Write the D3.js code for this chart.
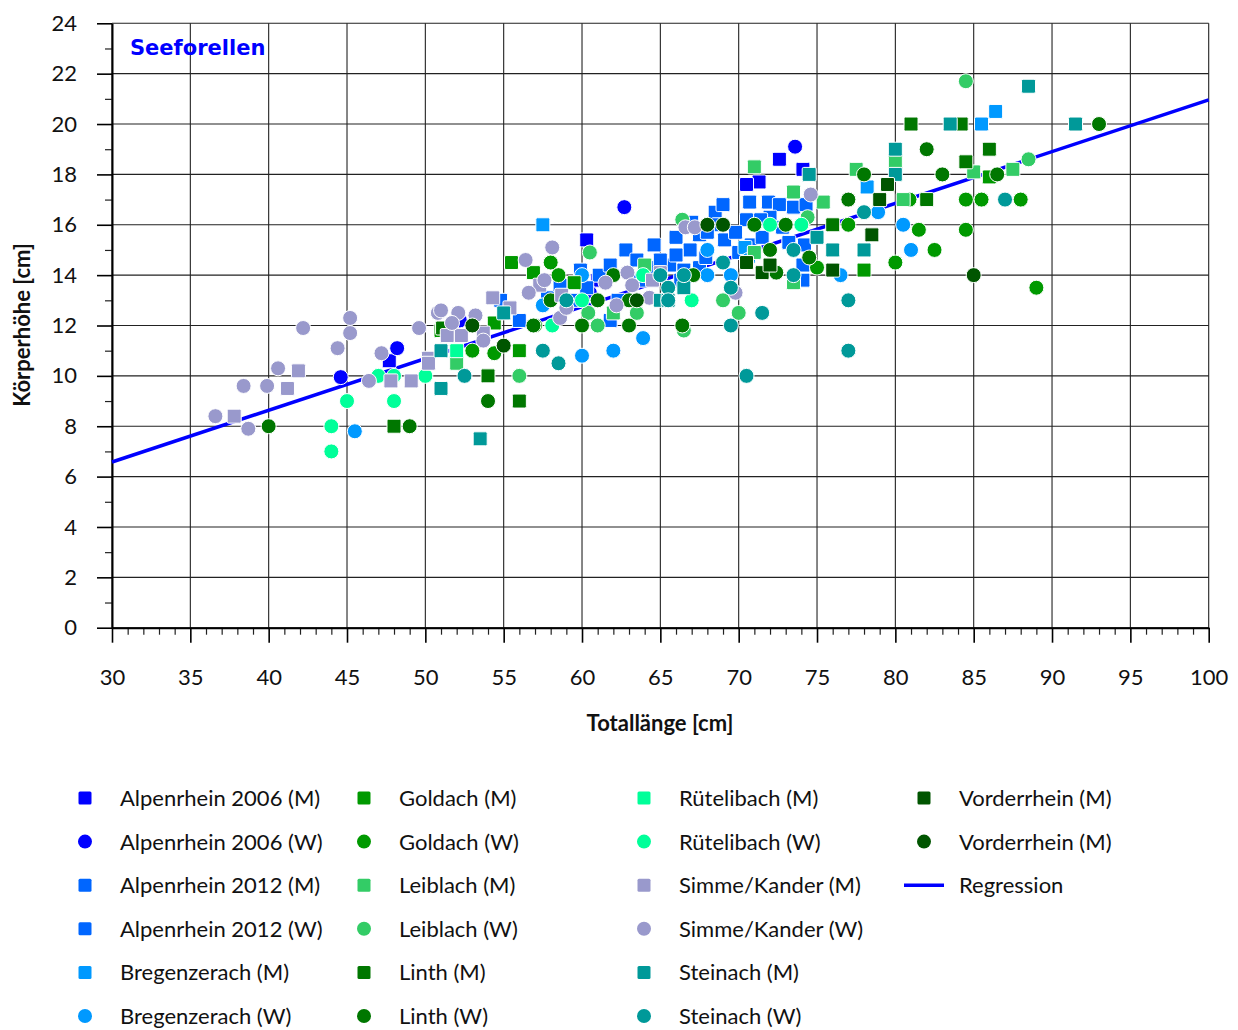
<!DOCTYPE html>
<html>
<head>
<meta charset="utf-8">
<script src="https://cdn.jsdelivr.net/npm/d3@7"></script>
<style>
  body { margin: 0; background: #fff; }
  svg text { font-family: Lato, "Open Sans", sans-serif; fill: #111; }
</style>
</head>
<body>
<div id="wrapper"></div>
<script>

// values are [Totallänge, Körperhöhe]
const alpen06M = [[47.7,10.6],[60.3,15.4],[72.6,18.6],[71.3,17.7],[70.5,17.6],[74.1,18.2],[61.0,13.8]]
const alpen06W = [[44.6,9.95],[48.2,11.1],[62.7,16.7],[73.6,19.1],[60.5,13.3],[52.2,12.2]]
const alpen12M = [[57.8,13.1],[59.5,13.0],[59.9,14.2],[61.1,14.0],[61.8,14.4],[62.8,15.0],[64.6,15.2],[66.0,15.5],[66.9,15.0],[68.5,16.5],[70.7,16.9],[71.9,16.9],[72.6,16.8],[73.5,16.7],[74.3,16.8],[69.1,15.4],[70.8,15.2],[74.2,15.2],[74.1,14.4],[63.7,13.8],[65.6,14.4],[67.5,15.6],[71.5,15.5],[70.5,16.2],[67.0,16.1],[69.0,16.8],[72.0,16.3]]
const alpen12W = [[58.6,13.6],[62.3,13.0],[61.8,12.2],[64.2,14.3],[65.0,14.6],[66.5,14.2],[67.5,14.3],[67.9,14.7],[68.7,16.0],[69.8,15.7],[71.4,16.2],[74.1,13.8],[54.8,13.0],[56.0,12.2],[60.3,13.5],[72.8,15.9],[73.2,15.3],[66.3,13.8],[66.0,14.8],[63.5,14.6],[68.0,15.7],[70.0,14.9]]
const bregM = [[57.5,16.0],[86.4,20.5],[85.5,20.0],[78.2,17.5],[70.4,15.1]]
const bregW = [[45.5,7.8],[60.0,10.8],[62.0,11.0],[63.9,11.5],[68.0,15.0],[70.6,14.6],[69.5,14.0],[68.0,14.0],[60.0,14.0],[57.5,12.8],[80.5,16.0],[81.0,15.0],[76.5,14.0],[78.9,16.5]]
const goldM = [[55.5,14.5],[59.5,13.7],[56.9,14.1],[54.4,12.1],[51.0,11.8],[78.0,14.2],[86.0,17.9],[56.0,11.0]]
const goldW = [[58.0,14.5],[58.5,14.0],[54.4,10.9],[84.5,17.0],[85.5,17.0],[88.0,17.0],[84.5,15.8],[81.5,15.8],[82.5,15.0],[80.0,14.5],[89.0,13.5],[80.9,17.0],[75.0,14.3],[77.0,16.0],[53.0,11.0],[57.0,12.0]]
const leibM = [[71.0,18.3],[73.5,17.3],[75.4,16.9],[77.5,18.2],[80.0,18.5],[85.0,18.1],[87.5,18.2],[80.5,17.0],[71.0,14.9],[62.0,12.5],[64.0,14.4],[52.0,10.5],[73.5,13.7]]
const leibW = [[84.5,21.7],[88.5,18.6],[60.5,14.9],[66.5,11.8],[69.0,13.0],[70.0,12.5],[56.0,10.0],[61.0,12.0],[60.4,12.5],[63.5,12.5],[66.4,16.2],[74.4,16.3]]
const linthM = [[81.0,20.0],[86.0,19.0],[82.0,17.0],[84.2,20.0],[84.5,18.5],[76.0,16.0],[48.0,8.0],[54.0,10.0],[56.0,9.0],[51.1,11.9]]
const linthW = [[40.0,8.0],[49.0,8.0],[54.0,9.0],[93.0,20.0],[82.0,19.0],[83.0,18.0],[86.5,18.0],[78.0,18.0],[77.0,17.0],[71.0,16.0],[73.0,16.0],[72.0,15.0],[74.5,14.7],[72.4,14.1],[67.1,14.0],[66.4,12.0],[63.0,12.0],[60.0,12.0],[56.9,12.0],[61.0,13.0],[63.0,13.0],[62.0,14.0],[58.0,13.0]]
const rueteM = [[52.0,11.0]]
const rueteW = [[47.0,10.0],[45.0,9.0],[44.0,8.0],[44.0,7.0],[48.0,9.0],[48.0,10.0],[50.0,10.0],[60.0,13.0],[58.1,12.0],[67.0,13.0],[72.0,16.0],[74.0,16.0],[63.9,14.0]]
const simmeM = [[37.8,8.4],[41.2,9.5],[41.9,10.2],[47.8,9.8],[49.1,9.8],[50.2,10.7],[51.4,11.6],[52.3,11.6],[54.3,13.1],[55.4,12.7],[57.3,13.6],[58.7,13.2],[64.5,13.8],[65.0,14.1],[53.7,11.7],[50.2,10.5]]
const simmeW = [[36.6,8.4],[38.4,9.6],[38.7,7.9],[39.9,9.6],[40.6,10.3],[42.2,11.9],[44.4,11.1],[45.2,12.3],[45.2,11.7],[46.4,9.8],[47.2,10.9],[49.6,11.9],[50.8,12.5],[51.0,12.6],[52.1,12.5],[53.2,12.4],[51.7,12.1],[53.7,11.4],[56.4,14.6],[58.1,15.1],[57.6,13.8],[56.6,13.3],[58.6,12.3],[59.0,12.7],[61.5,13.7],[62.9,14.1],[63.2,13.6],[62.2,12.8],[64.3,13.1],[66.6,15.9],[67.2,15.9],[69.8,13.3],[74.6,17.2]]
const steinM = [[88.5,21.5],[83.5,20.0],[91.5,20.0],[80.0,19.0],[80.0,18.0],[74.5,18.0],[75.0,15.5],[76.0,15.0],[78.0,15.0],[66.5,13.5],[65.0,13.0],[65.5,13.0],[55.0,12.5],[51.0,11.0],[51.0,9.5],[53.5,7.5]]
const steinW = [[87.0,17.0],[78.0,16.5],[73.5,15.0],[73.5,14.0],[77.0,13.0],[77.0,11.0],[70.5,10.0],[71.5,12.5],[69.5,12.0],[69.5,13.5],[69.0,14.5],[65.0,14.0],[65.5,13.5],[65.5,13.0],[66.5,14.0],[59.0,13.0],[57.5,11.0],[58.5,10.5],[52.5,10.0]]
const vordM = [[79.5,17.6],[79.0,17.0],[76.0,14.2],[70.5,14.5],[71.5,14.1],[72.0,14.4],[78.5,15.6]]
const vordW = [[85.0,14.0],[68.0,16.0],[69.0,16.0],[63.5,13.0],[55.0,11.2],[53.0,12.0]]

// regression line end points
const regression = [[30, 6.58], [100, 20.96]]

const xTicks = [30, 35, 40, 45, 50, 55, 60, 65, 70, 75, 80, 85, 90, 95, 100]
const yTicks = [0, 2, 4, 6, 8, 10, 12, 14, 16, 18, 20, 22, 24]

const series = [
  {name: "Alpenrhein 2006 (M)", data: alpen06M, color: "#0000ff", shape: "square"},
  {name: "Alpenrhein 2006 (W)", data: alpen06W, color: "#0000ff", shape: "circle"},
  {name: "Alpenrhein 2012 (M)", data: alpen12M, color: "#0066ff", shape: "square"},
  {name: "Alpenrhein 2012 (W)", data: alpen12W, color: "#0066ff", shape: "square"},
  {name: "Bregenzerach (M)", data: bregM, color: "#0099ff", shape: "square"},
  {name: "Bregenzerach (W)", data: bregW, color: "#0099ff", shape: "circle"},
  {name: "Goldach (M)", data: goldM, color: "#009900", shape: "square"},
  {name: "Goldach (W)", data: goldW, color: "#009900", shape: "circle"},
  {name: "Leiblach (M)", data: leibM, color: "#33cc66", shape: "square"},
  {name: "Leiblach (W)", data: leibW, color: "#33cc66", shape: "circle"},
  {name: "Linth (M)", data: linthM, color: "#007700", shape: "square"},
  {name: "Linth (W)", data: linthW, color: "#007700", shape: "circle"},
  {name: "Rütelibach (M)", data: rueteM, color: "#00ff99", shape: "square"},
  {name: "Rütelibach (W)", data: rueteW, color: "#00ff99", shape: "circle"},
  {name: "Simme/Kander (M)", data: simmeM, color: "#9999cc", shape: "square"},
  {name: "Simme/Kander (W)", data: simmeW, color: "#9999cc", shape: "circle"},
  {name: "Steinach (M)", data: steinM, color: "#009999", shape: "square"},
  {name: "Steinach (W)", data: steinW, color: "#009999", shape: "circle"},
  {name: "Vorderrhein (M)", data: vordM, color: "#005500", shape: "square"},
  {name: "Vorderrhein (M)", data: vordW, color: "#005500", shape: "circle"},
]

function drawChart() {
  const width = 1238, height = 1030
  const svg = d3.select("#wrapper").append("svg")
      .attr("width", width)
      .attr("height", height)

  const x = d3.scaleLinear().domain([30, 100]).range([112, 1208.7])
  const y = d3.scaleLinear().domain([0, 24]).range([627.7, 23.3])

  // grid
  const grid = svg.append("g")
  grid.selectAll(".gx").data(xTicks).join("line")
      .attr("x1", d => x(d)).attr("x2", d => x(d))
      .attr("y1", y(24)).attr("y2", y(0))
      .attr("stroke", "#222").attr("stroke-width", 1.1)
  grid.selectAll(".gy").data(yTicks).join("line")
      .attr("x1", x(30)).attr("x2", x(100))
      .attr("y1", d => y(d)).attr("y2", d => y(d))
      .attr("stroke", "#222").attr("stroke-width", 1.1)

  // minor ticks
  const xMinor = d3.range(30, 101, 1).filter(v => v % 5 !== 0)
  const yMinor = d3.range(1, 24, 2)
  svg.append("g")
      .attr("transform", `translate(0,${y(0)})`)
      .call(d3.axisBottom(x).tickValues(xMinor).tickSize(7).tickSizeOuter(0).tickFormat(""))
      .call(g => g.select(".domain").remove())
      .selectAll("line").attr("stroke", "#222").attr("stroke-width", 1.2)
  svg.append("g")
      .attr("transform", `translate(${x(30)},0)`)
      .call(d3.axisLeft(y).tickValues(yMinor).tickSize(7).tickSizeOuter(0).tickFormat(""))
      .call(g => g.select(".domain").remove())
      .selectAll("line").attr("stroke", "#222").attr("stroke-width", 1.2)

  // major axes
  const xAxis = svg.append("g")
      .attr("transform", `translate(0,${y(0)})`)
      .call(d3.axisBottom(x).tickValues(xTicks).tickSize(15).tickSizeOuter(0).tickPadding(27))
  const yAxis = svg.append("g")
      .attr("transform", `translate(${x(30)},0)`)
      .call(d3.axisLeft(y).tickValues(yTicks).tickSize(15).tickSizeOuter(0).tickPadding(20))
  for (const ax of [xAxis, yAxis]) {
    ax.select(".domain").attr("stroke", "#000").attr("stroke-width", 2)
    ax.selectAll("line").attr("stroke", "#000").attr("stroke-width", 1.6)
    ax.selectAll("text")
        .style("font-family", "Lato, sans-serif")
        .style("font-size", "22px")
        .attr("fill", "#111")
  }

  // regression
  const line = d3.line().x(d => x(d[0])).y(d => y(d[1]))
  svg.append("path")
      .datum(regression)
      .attr("d", line)
      .attr("fill", "none")
      .attr("stroke", "#0000ff")
      .attr("stroke-width", 3.5)

  // points
  const size = 14
  for (const s of series) {
    const g = svg.append("g")
    if (s.shape === "square") {
      g.selectAll("rect").data(s.data).join("rect")
          .attr("x", d => x(d[0]) - size / 2)
          .attr("y", d => y(d[1]) - size / 2)
          .attr("width", size).attr("height", size)
          .attr("rx", 1.5)
          .attr("fill", s.color)
          .attr("stroke", "#fff").attr("stroke-width", 1)
    } else {
      g.selectAll("circle").data(s.data).join("circle")
          .attr("cx", d => x(d[0]))
          .attr("cy", d => y(d[1]))
          .attr("r", size / 2 + 0.5)
          .attr("fill", s.color)
          .attr("stroke", "#fff").attr("stroke-width", 1)
    }
  }

  // title
  svg.append("text")
      .attr("x", 130).attr("y", 55)
      .text("Seeforellen")
      .style("font-family", "'DejaVu Sans', sans-serif")
      .style("font-weight", "bold")
      .style("font-size", "21px")
      .style("fill", "#0000ff")

  // axis titles
  svg.append("text")
      .attr("x", 660).attr("y", 731)
      .attr("text-anchor", "middle")
      .text("Totallänge [cm]")
      .style("font-weight", "bold").style("font-size", "22px")
  svg.append("text")
      .attr("transform", "translate(30,325) rotate(-90)")
      .attr("text-anchor", "middle")
      .text("Körperhöhe [cm]")
      .style("font-weight", "bold").style("font-size", "22px")

  // legend
  const colX = [85, 364, 644, 924]
  const rowY = d3.range(6).map(i => 798 + i * 43.6)
  const legendItems = series.map((s, i) => ({...s, col: Math.floor(i / 6), row: i % 6}))
  legendItems.push({name: "Regression", shape: "line", color: "#0000ff", col: 3, row: 2})
  const leg = svg.append("g").selectAll("g").data(legendItems).join("g")
      .attr("transform", d => `translate(${colX[d.col]},${rowY[d.row]})`)
  leg.each(function(d) {
    const g = d3.select(this)
    if (d.shape === "square") {
      g.append("rect").attr("x", -6.5).attr("y", -6.5).attr("width", 13).attr("height", 13)
          .attr("rx", 1.5).attr("fill", d.color)
    } else if (d.shape === "circle") {
      g.append("circle").attr("r", 7).attr("fill", d.color)
    } else {
      g.append("line").attr("x1", -20).attr("x2", 20).attr("stroke", d.color).attr("stroke-width", 3.5)
    }
    g.append("text").attr("x", 35).attr("y", 8).text(d.name)
        .style("font-size", "22px")
  })
}

drawChart()
</script>
</body>
</html>
